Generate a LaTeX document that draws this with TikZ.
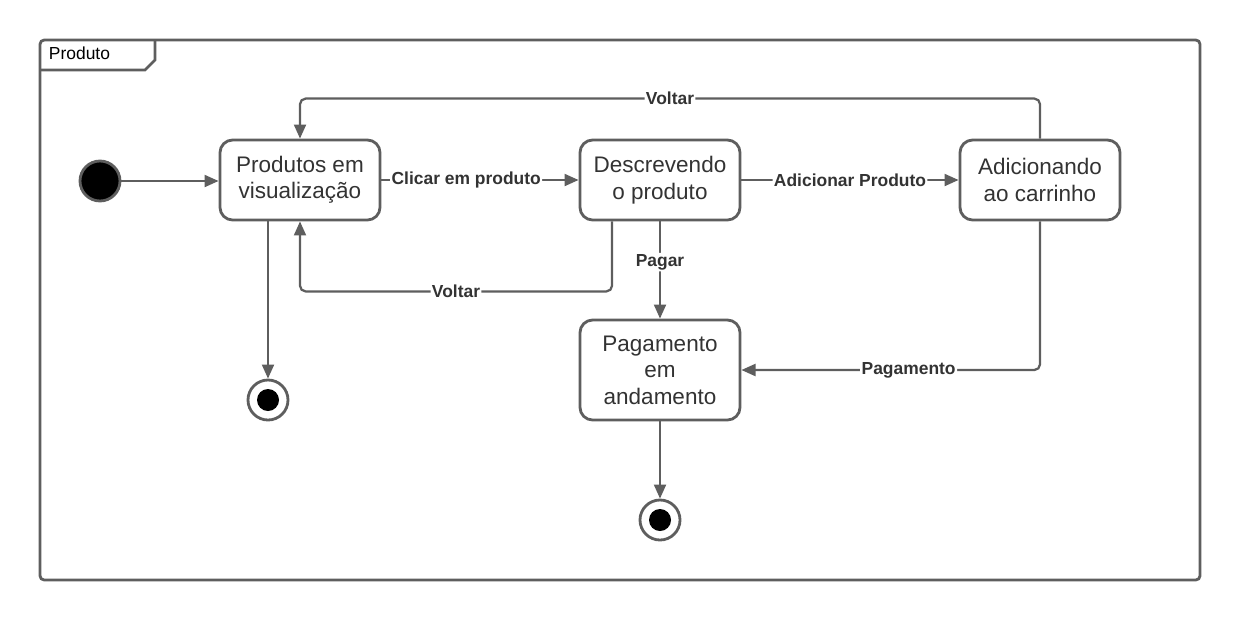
\documentclass[tikz,border=0pt]{standalone}
\usepackage{fontspec}
\setmainfont{Liberation Sans}
\usepackage{xcolor}
\usetikzlibrary{positioning,calc,arrows.meta}

\definecolor{linegray}{HTML}{5E5E5E}
\definecolor{textgray}{HTML}{333333}

\begin{document}
\begin{tikzpicture}[x=0.025cm, y=-0.025cm,
    state/.style={draw=linegray, line width=2pt, rounded corners=9pt, fill=white,
        minimum width=4cm, minimum height=2cm, align=center, text=textgray,
        font=\fontsize{16}{18.8}\selectfont},
    trans/.style={draw=linegray, line width=1.6pt, rounded corners=4pt,
        -{Triangle[length=10pt, width=8.5pt]}},
    lbl/.style={fill=white, inner sep=1pt, text=textgray,
        font=\fontsize{12.4}{14}\bfseries\selectfont},
    startstate/.style={circle, draw=linegray, line width=2pt, fill=black,
        minimum size=1cm, inner sep=0pt},
    endstate/.style={circle, draw=linegray, line width=2pt, fill=white,
        minimum size=1cm, inner sep=0pt}]
    \useasboundingbox (0,0) rectangle (1240,620);

    % Frame with tab
    \draw[linegray, line width=2pt, rounded corners=3pt] (40,40) rectangle (1200,580);
    \draw[linegray, line width=2pt] (40,70) -- (145,70) -- (155,60) -- (155,40);
    \node[anchor=west, text=black, font=\fontsize{12.4}{14}\selectfont] (frametitle) at (44,53) {Produto};

    % States
    \node[startstate] (init) at (100,181) {};
    \node[state] (visual) at (300,180) {Produtos em\\visualização};
    \node[state] (descr) at (660,180) {Descrevendo\\o produto};
    \node[state] (carrinho) at (1040,180) {Adicionando\\ao carrinho};
    \node[state, minimum height=2.5cm] (pagam) at (660,370) {Pagamento\\em\\andamento};
    \node[endstate] (fim1) at (268,400) {};
    \node[circle, fill=black, minimum size=0.55cm, inner sep=0pt] (fim1dot) at (fim1) {};
    \node[endstate] (fim2) at (660,520) {};
    \node[circle, fill=black, minimum size=0.55cm, inner sep=0pt] (fim2dot) at (fim2) {};

    % Transitions
    \draw[trans] (init) -- (visual.west |- init);
    \draw[trans] (visual.east) -- node[lbl, pos=0.43] {Clicar em produto} (descr.west);
    \draw[trans] (descr.east) -- node[lbl] {Adicionar Produto} (carrinho.west);
    \draw[trans] (carrinho.north) -- ++(0,-40) -| node[lbl, pos=0.25] {Voltar} (visual.north);
    \draw[trans] ($(descr.south)+(-48,0)$) -- ++(0,70) -| node[lbl, pos=0.25] {Voltar} (visual.south);
    \draw[trans] (descr.south) -- node[lbl, pos=0.42] {Pagar} (pagam.north);
    \draw[trans] (carrinho.south) |- node[lbl, pos=0.72] {Pagamento} (pagam.east);
    \draw[trans] ($(visual.south)+(-32,0)$) -- (fim1.north);
    \draw[trans] (pagam.south) -- (fim2.north);
\end{tikzpicture}
\end{document}
